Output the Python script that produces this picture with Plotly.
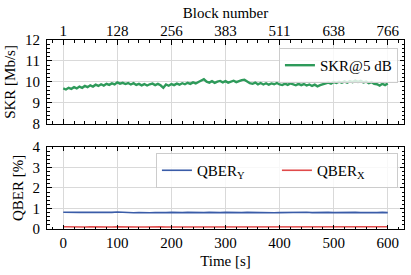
import numpy as np
import plotly.graph_objects as go

# ---------------- data ----------------
skr_time = list(range(0, 601, 5))
skr_values = [
    9.69, 9.64, 9.72, 9.67, 9.75, 9.69, 9.78, 9.72, 9.81, 9.75,
    9.84, 9.78, 9.87, 9.81, 9.89, 9.83, 9.91, 9.86, 9.93, 9.88,
    9.98, 9.92, 9.96, 9.90, 9.95, 9.88, 9.94, 9.86, 9.91, 9.84,
    9.90, 9.83, 9.89, 9.92, 9.85, 9.91, 9.84, 9.72, 9.88, 9.82,
    9.90, 9.85, 9.92, 9.87, 9.94, 9.89, 9.96, 9.91, 9.98, 9.93,
    10.00, 10.05, 10.13, 10.01, 9.97, 10.04, 9.96, 10.02, 10.05, 9.98,
    10.04, 9.97, 10.03, 10.06, 9.99, 10.05, 10.09, 10.11, 10.01, 9.94,
    9.91, 9.97, 9.89, 9.95, 9.88, 9.94, 9.87, 9.93, 9.89, 9.95,
    9.88, 9.85, 9.92, 9.86, 9.93, 9.87, 9.84, 9.91, 9.85, 9.90,
    9.83, 9.88, 9.81, 9.87, 9.79, 9.85, 9.89, 9.93, 9.97, 9.92,
    10.00, 9.95, 10.01, 9.96, 10.03, 9.97, 10.04, 9.99, 10.06, 10.00,
    10.05, 9.98, 10.02, 9.94, 9.99, 9.91, 9.89, 9.83, 9.91, 9.85,
    9.93,
]

qber_time = list(range(0, 601, 10))
qber_y = [
    0.82, 0.81, 0.83, 0.81, 0.82, 0.80, 0.81, 0.82, 0.80, 0.81,
    0.83, 0.81, 0.80, 0.79, 0.80, 0.78, 0.79, 0.80, 0.79, 0.80,
    0.81, 0.79, 0.80, 0.81, 0.80, 0.82, 0.80, 0.81, 0.79, 0.80,
    0.81, 0.80, 0.79, 0.80, 0.81, 0.80, 0.79, 0.81, 0.80, 0.79,
    0.80, 0.81, 0.79, 0.80, 0.81, 0.82, 0.80, 0.81, 0.83, 0.81,
    0.80, 0.81, 0.79, 0.80, 0.81, 0.80, 0.79, 0.81, 0.80, 0.81,
    0.80,
]
qber_x = [
    0.11, 0.10, 0.11, 0.10, 0.10, 0.11, 0.10, 0.11, 0.10, 0.10,
    0.11, 0.10, 0.10, 0.11, 0.10, 0.10, 0.11, 0.10, 0.11, 0.10,
    0.10, 0.11, 0.10, 0.10, 0.11, 0.10, 0.11, 0.10, 0.10, 0.11,
    0.10, 0.11, 0.10, 0.10, 0.11, 0.10, 0.10, 0.11, 0.10, 0.11,
    0.10, 0.10, 0.11, 0.10, 0.11, 0.10, 0.10, 0.11, 0.10, 0.10,
    0.11, 0.10, 0.11, 0.10, 0.10, 0.11, 0.10, 0.10, 0.11, 0.10,
    0.11,
]

time_ticks = [0, 100, 200, 300, 400, 500, 600]
block_labels = ["1", "128", "256", "383", "511", "638", "766"]

skr_name = "SKR@5 dB"
qy_name = "QBER<sub>Y</sub>"
qx_name = "QBER<sub>X</sub>"

# ---------------- style ----------------
FONT = "Liberation Serif"
FS = 15
GREEN = "#2e9a5a"
BLUE = "#3a5ca8"
RED = "#e04a4a"
GRID = "#d9d9d9"

fig = go.Figure()
fig.add_trace(go.Scatter(x=skr_time, y=skr_values, mode="lines", name=skr_name,
                         line=dict(color=GREEN, width=2.4), xaxis="x", yaxis="y",
                         legend="legend", showlegend=True))
fig.add_trace(go.Scatter(x=qber_time, y=qber_y, mode="lines", name=qy_name,
                         line=dict(color=BLUE, width=1.6), xaxis="x2", yaxis="y2",
                         legend="legend2", showlegend=True))
fig.add_trace(go.Scatter(x=qber_time, y=qber_x, mode="lines", name=qx_name,
                         line=dict(color=RED, width=1.6), xaxis="x2", yaxis="y2",
                         legend="legend2", showlegend=True))

xrange = [-30, 630]
xminor = dict(ticks="inside", ticklen=2.5, tickcolor="black", tickwidth=1,
              tickvals=[v for v in np.arange(-20, 630, 20) if v % 100 != 0],
              showgrid=False)
yminor = dict(ticks="inside", ticklen=2.5, tickcolor="black",
              dtick=0.2, showgrid=False)

common = dict(showline=True, linecolor="black", linewidth=1, mirror="ticks",
              ticks="inside", ticklen=4.5, tickwidth=1, tickcolor="black",
              showgrid=True, gridcolor=GRID, gridwidth=1, zeroline=False,
              automargin=False,
              tickfont=dict(family=FONT, size=FS, color="black"))

fig.update_layout(
    width=411, height=275,
    margin=dict(l=47, r=7, t=40, b=46, autoexpand=False),
    paper_bgcolor="white", plot_bgcolor="white",
    font=dict(family=FONT, size=FS, color="black"),
    showlegend=True,
    xaxis=dict(**common, domain=[0, 1], anchor="y", side="top", range=xrange,
               tickmode="array", tickvals=time_ticks, ticktext=block_labels,
               minor=xminor, ticklabelstandoff=-3,
               title=dict(text="Block number", standoff=0,
                          font=dict(family=FONT, size=FS))),
    yaxis=dict(**common, domain=[0.556, 1], anchor="x", range=[8, 12],
               tickvals=[8, 9, 10, 11, 12], minor=yminor,
               ticklabelstandoff=3,
               title=dict(text="SKR [Mb/s]", standoff=5,
                          font=dict(family=FONT, size=FS))),
    xaxis2=dict(**common, domain=[0, 1], anchor="y2", range=xrange,
                tickmode="array", tickvals=time_ticks,
                ticktext=[str(t) for t in time_ticks],
                minor=xminor,
                title=dict(text="Time [s]", standoff=5,
                           font=dict(family=FONT, size=FS))),
    yaxis2=dict(**common, domain=[0, 0.434], anchor="x2", range=[0, 4],
                tickvals=[0, 1, 2, 3, 4], minor=yminor,
                ticklabelstandoff=3,
                title=dict(text="QBER [%]", standoff=5,
                           font=dict(family=FONT, size=FS))),
    legend=dict(x=0.983, y=0.958, xanchor="right", yanchor="top",
                bgcolor="rgba(255,255,255,0.8)", bordercolor="#cccccc",
                borderwidth=1, font=dict(family=FONT, size=FS)),
    legend2=dict(x=0.983, y=0.402, xanchor="right", yanchor="top",
                 orientation="h", entrywidth=75,
                 bgcolor="rgba(255,255,255,0.8)", bordercolor="#cccccc",
                 borderwidth=1, font=dict(family=FONT, size=FS)),
)

fig.write_html("out.html", config={"displayModeBar": False},
               post_script="document.body.style.margin='0';")
